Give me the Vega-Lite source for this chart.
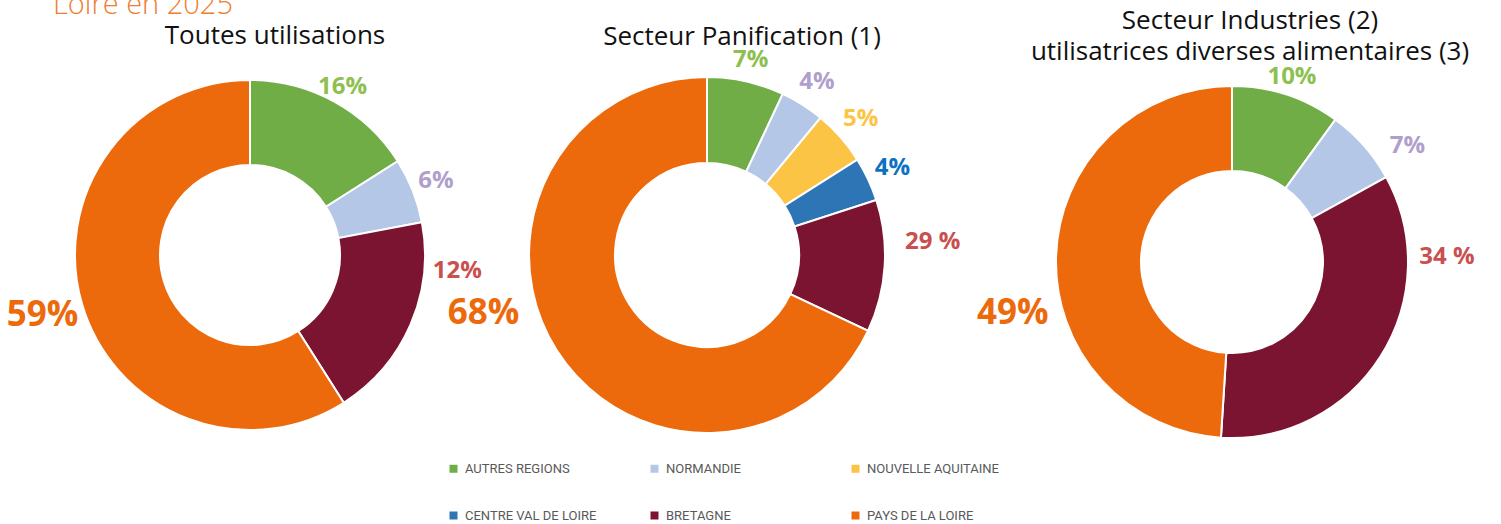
{
  "$schema": "https://vega.github.io/schema/vega-lite/v6.json",
  "padding": {"left": 6, "top": -9, "right": 0, "bottom": 0},
  "background": "white",
  "bounds": "flush",
  "spacing": 0,
  "title": {"text": "Loire en 2025", "anchor": "start", "frame": "group", "baseline": "alphabetic", "fontSize": 29, "font": "Open Sans", "fontWeight": 300, "color": "#EE7D31", "dx": 4, "offset": -35},
  "data": {"values": [
    {"chart": "A", "region": "AUTRES REGIONS", "k": 1, "part": 16, "label": "16%"},
    {"chart": "A", "region": "NORMANDIE", "k": 2, "part": 6, "label": "6%"},
    {"chart": "A", "region": "BRETAGNE", "k": 5, "part": 19, "label": "12%"},
    {"chart": "A", "region": "PAYS DE LA LOIRE", "k": 6, "part": 59, "label": "59%"},
    {"chart": "B", "region": "AUTRES REGIONS", "k": 1, "part": 7, "label": "7%"},
    {"chart": "B", "region": "NORMANDIE", "k": 2, "part": 4, "label": "4%"},
    {"chart": "B", "region": "NOUVELLE AQUITAINE", "k": 3, "part": 5, "label": "5%"},
    {"chart": "B", "region": "CENTRE VAL DE LOIRE", "k": 4, "part": 4, "label": "4%"},
    {"chart": "B", "region": "BRETAGNE", "k": 5, "part": 12, "label": "29 %"},
    {"chart": "B", "region": "PAYS DE LA LOIRE", "k": 6, "part": 68, "label": "68%"},
    {"chart": "C", "region": "AUTRES REGIONS", "k": 1, "part": 10, "label": "10%"},
    {"chart": "C", "region": "NORMANDIE", "k": 2, "part": 7, "label": "7%"},
    {"chart": "C", "region": "BRETAGNE", "k": 5, "part": 34, "label": "34 %"},
    {"chart": "C", "region": "PAYS DE LA LOIRE", "k": 6, "part": 49, "label": "49%"}
  ]},
  "config": {
    "view": {"stroke": null},
    "title": {"font": "Open Sans", "fontSize": 26, "fontWeight": 400, "color": "#111111", "frame": "group", "baseline": "alphabetic", "offset": 6},
    "legend": {"orient": "none", "legendX": 398, "legendY": 407, "direction": "horizontal", "columns": 3, "gridAlign": "all", "columnPadding": 51, "rowPadding": 33, "symbolType": "square", "symbolSize": 64, "symbolStrokeWidth": 0, "labelFont": "Roboto", "labelFontSize": 13, "labelColor": "#595959", "labelOffset": 5, "title": null}
  },
  "hconcat": [
    {
      "width": 402, "height": 400,
      "title": {"text": "Toutes utilisations", "dx": 25},
      "transform": [{"filter": "datum.chart === 'A'"}],
      "encoding": {
        "theta": {"field": "part", "type": "quantitative", "stack": true},
        "order": {"field": "k", "type": "quantitative"}
      },
      "layer": [
        {"mark": {"type": "arc", "innerRadius": 90, "outerRadius": 175, "stroke": "white", "strokeWidth": 2},
         "encoding": {"color": {"field": "region", "type": "nominal", "scale": {"domain": ["AUTRES REGIONS", "NORMANDIE", "NOUVELLE AQUITAINE", "CENTRE VAL DE LOIRE", "BRETAGNE", "PAYS DE LA LOIRE"], "range": ["#70AD47", "#B4C7E7", "#FBC445", "#2E75B6", "#7B1431", "#EC6A0C"]}}}},
        {"mark": {"type": "text", "radius": 200, "font": "Open Sans", "fontWeight": "bold", "align": "center", "baseline": "middle",
                  "radiusOffset": {"expr": "datum.region === 'AUTRES REGIONS' ? -8 : datum.region === 'BRETAGNE' ? 8 : datum.region === 'PAYS DE LA LOIRE' ? 16 : 0"},
                  "thetaOffset": {"expr": "datum.region === 'BRETAGNE' ? -0.33 : 0"}},
         "encoding": {"text": {"field": "label"},
           "size": {"condition": {"test": "datum.region === 'PAYS DE LA LOIRE'", "value": 35}, "value": 24},
           "color": {"condition": [
             {"test": "datum.region === 'AUTRES REGIONS'", "value": "#8DC04F"},
             {"test": "datum.region === 'NORMANDIE'", "value": "#B09FCD"},
             {"test": "datum.region === 'NOUVELLE AQUITAINE'", "value": "#FBC445"},
             {"test": "datum.region === 'CENTRE VAL DE LOIRE'", "value": "#0B72C4"},
             {"test": "datum.region === 'BRETAGNE'", "value": "#C9504F"}], "value": "#EC6A0C"}}}
      ]
    },
    {
      "width": 512, "height": 400,
      "title": {"text": "Secteur Panification (1)", "dx": 35, "offset": -2},
      "transform": [{"filter": "datum.chart === 'B'"}],
      "encoding": {
        "theta": {"field": "part", "type": "quantitative", "stack": true},
        "order": {"field": "k", "type": "quantitative"}
      },
      "layer": [
        {"mark": {"type": "arc", "innerRadius": 92, "outerRadius": 178, "stroke": "white", "strokeWidth": 2},
         "encoding": {"color": {"field": "region", "type": "nominal"}}},
        {"mark": {"type": "text", "radius": 205, "font": "Open Sans", "fontWeight": "bold", "align": "center", "baseline": "middle",
                  "radiusOffset": {"expr": "datum.region === 'AUTRES REGIONS' ? -5 : datum.region === 'BRETAGNE' ? 21 : datum.region === 'PAYS DE LA LOIRE' ? 26 : 0"},
                  "thetaOffset": {"expr": "datum.region === 'PAYS DE LA LOIRE' ? 0.31 : datum.region === 'BRETAGNE' ? -0.12 : 0"}},
         "encoding": {"text": {"field": "label"},
           "size": {"condition": {"test": "datum.region === 'PAYS DE LA LOIRE'", "value": 35}, "value": 24},
           "color": {"condition": [
             {"test": "datum.region === 'AUTRES REGIONS'", "value": "#8DC04F"},
             {"test": "datum.region === 'NORMANDIE'", "value": "#B09FCD"},
             {"test": "datum.region === 'NOUVELLE AQUITAINE'", "value": "#FBC445"},
             {"test": "datum.region === 'CENTRE VAL DE LOIRE'", "value": "#0B72C4"},
             {"test": "datum.region === 'BRETAGNE'", "value": "#C9504F"}], "value": "#EC6A0C"}}}
      ]
    },
    {
      "width": 538, "height": 414,
      "title": {"text": ["Secteur Industries (2)", "utilisatrices diverses alimentaires (3)"], "dx": 18, "lineHeight": 31, "offset": -10},
      "transform": [{"filter": "datum.chart === 'C'"}],
      "encoding": {
        "theta": {"field": "part", "type": "quantitative", "stack": true},
        "order": {"field": "k", "type": "quantitative"}
      },
      "layer": [
        {"mark": {"type": "arc", "innerRadius": 91, "outerRadius": 176, "stroke": "white", "strokeWidth": 2},
         "encoding": {"color": {"field": "region", "type": "nominal"}}},
        {"mark": {"type": "text", "radius": 205, "font": "Open Sans", "fontWeight": "bold", "align": "center", "baseline": "middle",
                  "radiusOffset": {"expr": "datum.region === 'AUTRES REGIONS' ? -11 : datum.region === 'NORMANDIE' ? 5 : datum.region === 'BRETAGNE' ? 10 : datum.region === 'PAYS DE LA LOIRE' ? 20 : 0"},
                  "thetaOffset": {"expr": "datum.region === 'NORMANDIE' ? 0.14 : datum.region === 'BRETAGNE' ? -0.59 : datum.region === 'PAYS DE LA LOIRE' ? -0.26 : 0"}},
         "encoding": {"text": {"field": "label"},
           "size": {"condition": {"test": "datum.region === 'PAYS DE LA LOIRE'", "value": 35}, "value": 24},
           "color": {"condition": [
             {"test": "datum.region === 'AUTRES REGIONS'", "value": "#8DC04F"},
             {"test": "datum.region === 'NORMANDIE'", "value": "#B09FCD"},
             {"test": "datum.region === 'NOUVELLE AQUITAINE'", "value": "#FBC445"},
             {"test": "datum.region === 'CENTRE VAL DE LOIRE'", "value": "#0B72C4"},
             {"test": "datum.region === 'BRETAGNE'", "value": "#C9504F"}], "value": "#EC6A0C"}}}
      ]
    }
  ]
}
